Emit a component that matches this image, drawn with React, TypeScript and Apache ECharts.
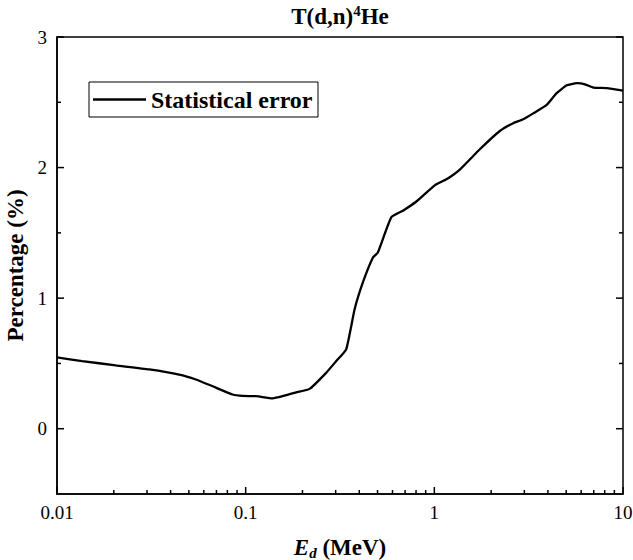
import React, { useEffect, useRef } from "react";
import * as echarts from "echarts";

const energies = [0.01, 0.0136, 0.0205, 0.0308, 0.0444, 0.0545, 0.0668, 0.0853, 0.0964, 0.1136, 0.139, 0.157, 0.185, 0.218, 0.267, 0.302, 0.341, 0.378, 0.418, 0.472, 0.502, 0.592, 0.682, 0.803, 1.005, 1.159, 1.365, 1.742, 2.224, 2.618, 2.958, 3.344, 3.94, 4.45, 5.03, 5.69, 6.29, 6.96, 8.2, 10];
const statError = [0.546, 0.518, 0.485, 0.454, 0.415, 0.377, 0.325, 0.262, 0.251, 0.249, 0.233, 0.249, 0.279, 0.305, 0.428, 0.518, 0.608, 0.915, 1.12, 1.31, 1.35, 1.62, 1.67, 1.74, 1.864, 1.91, 1.985, 2.14, 2.28, 2.34, 2.37, 2.415, 2.48, 2.57, 2.63, 2.646, 2.638, 2.613, 2.608, 2.59];
const seriesName = "Statistical error";

const xMajor = [0.01, 0.1, 1, 10];
const xMinor = [0.02, 0.03, 0.04, 0.05, 0.06, 0.07, 0.08, 0.09, 0.2, 0.3, 0.4, 0.5, 0.6, 0.7, 0.8, 0.9, 2, 3, 4, 5, 6, 7, 8, 9];
const yMajor = [0, 1, 2, 3];
const yMinor = [0.5, 1.5, 2.5];

const X_MIN = 0.01;
const X_MAX = 10;
const Y_MIN = -0.5;
const Y_MAX = 3;

const FONT = "'Liberation Serif', 'Times New Roman', serif";

export default function App() {
  const ref = useRef<HTMLDivElement>(null);
  useEffect(() => {
    if (!ref.current) return;
    const chart = echarts.init(ref.current, null, { renderer: "svg" });

    const xTickSeries = (values: number[], len: number) => ({
      type: "custom",
      silent: true,
      clip: false,
      data: values.map((v) => [v, Y_MIN]),
      renderItem: (_p: any, api: any) => {
        const pt = api.coord([api.value(0), api.value(1)]);
        return {
          type: "line",
          shape: { x1: pt[0], y1: pt[1], x2: pt[0], y2: pt[1] - len },
          style: { stroke: "#000", lineWidth: 1.5 },
        };
      },
    });
    const yTickSeries = (values: number[], len: number) => ({
      type: "custom",
      silent: true,
      clip: false,
      data: values.map((v) => [X_MIN, v]),
      renderItem: (_p: any, api: any) => {
        const l = api.coord([X_MIN, api.value(1)]);
        const r = api.coord([X_MAX, api.value(1)]);
        return {
          type: "group",
          children: [
            { type: "line", shape: { x1: l[0], y1: l[1], x2: l[0] + len, y2: l[1] }, style: { stroke: "#000", lineWidth: 1.5 } },
            { type: "line", shape: { x1: r[0], y1: r[1], x2: r[0] - len, y2: r[1] }, style: { stroke: "#000", lineWidth: 1.5 } },
          ],
        };
      },
    });

    chart.setOption({
      animation: false,
      grid: { left: 57, right: 10, top: 37, bottom: 66, containLabel: false, outerBoundsMode: "none", show: true, borderColor: "#000", borderWidth: 1.5 },
      graphic: [
        {
          type: "text",
          x: 340,
          y: 3,
          style: {
            text: "{a|T(d,n)}{s|4}{a|He}",
            textAlign: "center",
            fill: "#000",
            rich: {
              a: { fontFamily: FONT, fontSize: 23, fontWeight: "bold", lineHeight: 27, fill: "#000" },
              s: { fontFamily: FONT, fontSize: 15, fontWeight: "bold", lineHeight: 15, verticalAlign: "top", fill: "#000" },
            },
          },
        },
        {
          type: "group",
          x: 89,
          y: 82,
          children: [
            { type: "rect", shape: { x: 0, y: 0, width: 229, height: 35 }, style: { fill: "#fff", stroke: "#000", lineWidth: 1 } },
            { type: "line", shape: { x1: 4, y1: 17.5, x2: 57, y2: 17.5 }, style: { stroke: "#000", lineWidth: 2.3 } },
            {
              type: "text",
              x: 62,
              y: 17.5,
              style: { text: seriesName, fontFamily: FONT, fontSize: 24, fontWeight: "bold", fill: "#000", verticalAlign: "middle", textAlign: "left" },
            },
          ],
        },
      ],
      xAxis: {
        type: "log",
        min: X_MIN,
        max: X_MAX,
        splitLine: { show: false },
        axisLine: { show: true, onZero: false, lineStyle: { color: "#000", width: 1.5 } },
        axisTick: { show: false },
        axisLabel: {
          margin: 9,
          color: "#000",
          fontFamily: FONT,
          fontSize: 19,
          formatter: (v: number) => String(Number(v.toPrecision(3))),
        },
        name: "{i|E}{sub|d}{b| (MeV)}",
        nameLocation: "middle",
        nameGap: 40,
        nameTextStyle: {
          rich: {
            i: { fontFamily: FONT, fontSize: 23, fontWeight: "bold", fontStyle: "italic", lineHeight: 26, color: "#000" },
            sub: { fontFamily: FONT, fontSize: 15, fontWeight: "bold", fontStyle: "italic", lineHeight: 15, verticalAlign: "bottom", color: "#000" },
            b: { fontFamily: FONT, fontSize: 23, fontWeight: "bold", lineHeight: 26, color: "#000" },
          },
        },
      },
      yAxis: {
        type: "value",
        min: Y_MIN,
        max: Y_MAX,
        interval: 0.5,
        splitLine: { show: false },
        axisLine: { show: true, onZero: false, lineStyle: { color: "#000", width: 1.5 } },
        axisTick: { show: false },
        axisLabel: {
          margin: 10,
          color: "#000",
          fontFamily: FONT,
          fontSize: 19,
          formatter: (v: number) => (Number.isInteger(v) && v >= 0 ? String(v) : ""),
        },
        name: "Percentage (%)",
        nameLocation: "middle",
        nameGap: 24,
        nameTextStyle: { fontFamily: FONT, fontSize: 23, fontWeight: "bold", color: "#000" },
      },
      series: [
        xTickSeries(xMajor, 7),
        xTickSeries(xMinor, 4),
        yTickSeries(yMajor, 7),
        yTickSeries(yMinor, 4),
        {
          name: seriesName,
          type: "line",
          data: energies.map((e, i) => [e, statError[i]]),
          symbol: "none",
          smooth: 0.15,
          lineStyle: { color: "#000", width: 2.3 },
        },
      ],
    });
    return () => chart.dispose();
  }, []);
  return <div ref={ref} style={{ position: "absolute", left: 0, top: 0, width: 633, height: 560 }} />;
}
